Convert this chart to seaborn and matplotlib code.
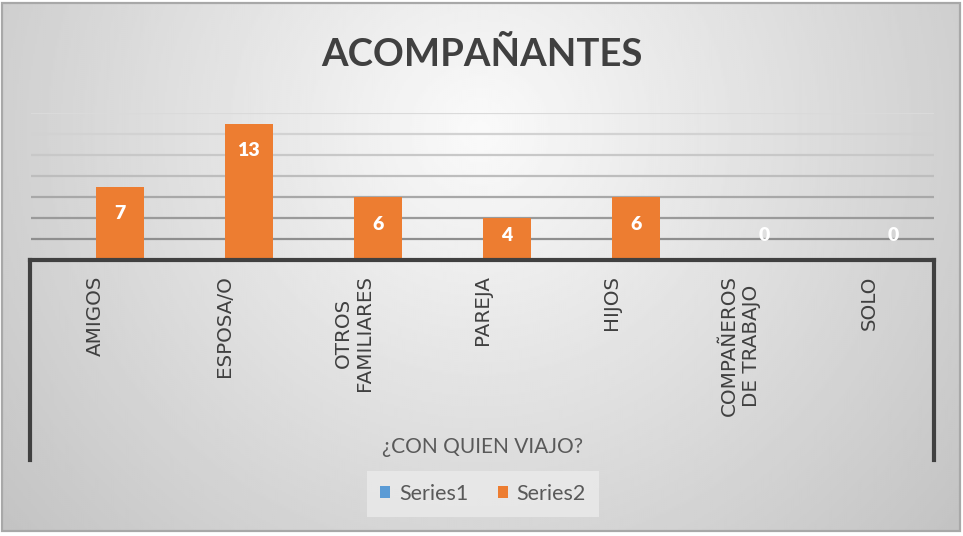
import numpy as np
import pandas as pd
import matplotlib
matplotlib.use("Agg")
import matplotlib.pyplot as plt
from matplotlib.patches import Rectangle
import seaborn as sns

# ---- data ----
categories = ["AMIGOS", "ESPOSA/O", "OTROS\nFAMILIARES", "PAREJA", "HIJOS",
              "COMPAÑEROS\nDE TRABAJO", "SOLO"]
series1 = [0, 0, 0, 0, 0, 0, 0]
series2 = [7, 13, 6, 4, 6, 0, 0]
series_names = ["Series1", "Series2"]
colors = ["#5B9BD5", "#ED7D31"]
title = "ACOMPAÑANTES"
x_title = "¿CON QUIEN VIAJO?"

df = pd.DataFrame({
    "cat": categories * 2,
    "serie": [series_names[0]] * len(categories) + [series_names[1]] * len(categories),
    "val": series1 + series2,
})

sns.set_theme(style="white")
plt.rcParams["font.family"] = ["Lato", "DejaVu Sans"]

W, H = 963, 536
fig = plt.figure(figsize=(W / 100, H / 100), dpi=100)
fig.patch.set_facecolor("white")


def box(x0, y0, x1, y1):
    """pixel box (top-left origin) -> figure fraction rect"""
    return [x0 / W, 1 - y1 / H, (x1 - x0) / W, (y1 - y0) / H]


# ---- soft radial background ----
bg = fig.add_axes([0, 0, 1, 1], zorder=0)
bg.set_xlim(0, W)
bg.set_ylim(H, 0)
bg.axis("off")
xs = np.linspace(2, 960, 480)
ys = np.linspace(3, 531, 264)
gx, gy = np.meshgrid(xs, ys)
r = np.sqrt(((gx - 480) / 480) ** 2 + ((gy - 130) / 470) ** 2)
shade = np.clip(250 - 42 * r, 180, 255) / 255.0
bg.imshow(shade, cmap="gray", vmin=0, vmax=1, extent=(2, 960, 531, 3),
          aspect="auto", interpolation="bilinear")
bg.add_patch(Rectangle((2, 3), 958, 528, fill=False, edgecolor="#a8a8a8", lw=1.6))

# ---- title ----
fig.text(482 / W, 1 - 55 / H, title, ha="center", va="center",
         fontsize=27.5, fontweight="bold", color="#404040")

# ---- bars ----
ax = fig.add_axes(box(31, 113, 934, 260), zorder=2)
ax.patch.set_alpha(0)
sns.barplot(data=df, x="cat", y="val", hue="serie", palette=colors,
            hue_order=series_names, width=0.75, saturation=1, errorbar=None,
            linewidth=0, ax=ax)
ax.set_ylim(0, 14)
ax.set_yticks(np.arange(0, 15, 2))
ax.set_yticklabels([])
ax.tick_params(axis="y", length=0)
ax.yaxis.grid(True, linewidth=1.6)
ax.set_axisbelow(True)
grid_cols = ["#ffffff00", "#8e8e8e", "#9a9a9a", "#a8a8a8", "#bdbdbd",
             "#c8c8c8", "#d2d2d2", "#dadada"]
for gl, c in zip(ax.get_ygridlines(), grid_cols):
    gl.set_color(c)
for s in ax.spines.values():
    s.set_visible(False)

ax.set_xticks(range(len(categories)))
ax.set_xticklabels(categories, rotation=90, ha="center", va="top",
                   multialignment="center", fontsize=14.3, color="#404040",
                   family="DejaVu Sans", linespacing=1.15)
ax.tick_params(axis="x", length=0, pad=11)
ax.set_xlabel(x_title, fontsize=15, color="#595959")
ax.xaxis.set_label_coords(0.5, (260 - 447) / 147)
ax.xaxis.label.set_va("center")
ax.set_ylabel("")

# value labels for Series2, placed inside the top of each bar
for patch, v in zip(ax.containers[1], series2):
    xc = patch.get_x() + patch.get_width() / 2
    ax.text(xc, max(v - 2.6, 2.3), str(v), ha="center", va="center",
            color="white", fontsize=14, fontweight="heavy", zorder=5)

# legend
handles, labels = ax.get_legend_handles_labels()
if ax.get_legend() is not None:
    ax.get_legend().remove()
leg = fig.legend(handles, labels, loc="center",
                 bbox_to_anchor=(483 / W, 1 - 494 / H), ncol=2, frameon=True,
                 facecolor="#ededed", edgecolor="none", framealpha=0.7,
                 fancybox=False, handlelength=0.47, handleheight=0.47,
                 handletextpad=0.42, columnspacing=1.35, borderpad=0.6,
                 borderaxespad=0, fontsize=15.5, labelcolor="#595959")

# category axis frame
frame = fig.add_axes(box(30, 260, 934, 460), zorder=3)
frame.patch.set_alpha(0)
frame.set_xticks([])
frame.set_yticks([])
for side in ("top", "left", "right"):
    frame.spines[side].set_linewidth(3)
    frame.spines[side].set_color("#404040")
frame.spines["bottom"].set_visible(False)

fig.savefig("out.png", dpi=100)
